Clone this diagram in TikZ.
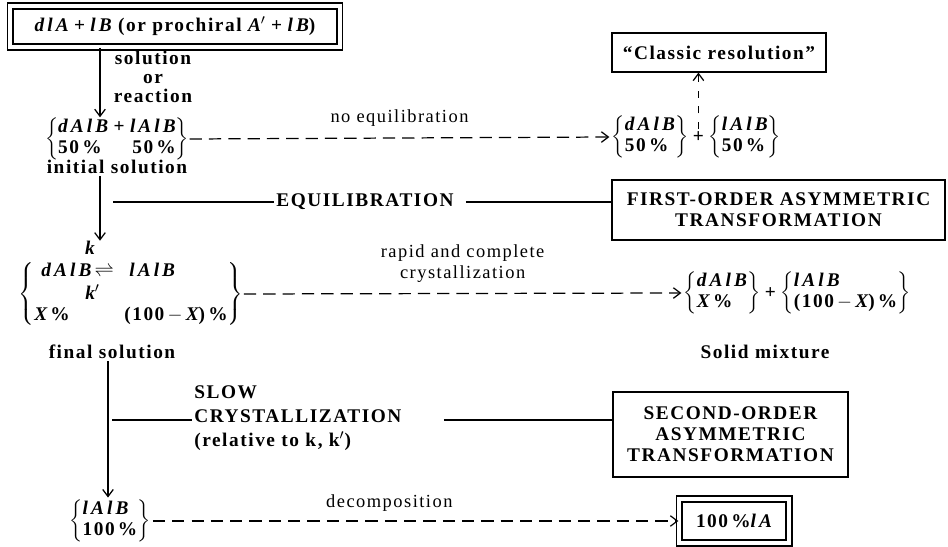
\documentclass[tikz,border=0pt]{standalone}
\usepackage{fontspec}
\setmainfont{Liberation Serif}[LetterSpace=8]
\newfontfamily\chfam{Liberation Serif}[LetterSpace=16]
\usetikzlibrary{arrows.meta, positioning}

\newcommand{\ch}[1]{{\chfam\bfseries\itshape #1}}
\newcommand{\brpair}[2]{$\left\{\begin{tabular}{@{}l@{}}#1\\#2\end{tabular}\right\}$}
\delimitershortfall=6pt

\begin{document}
\begin{tikzpicture}[x=0.02cm, y=-0.02cm, line width=0.7pt]
  \tikzset{txt/.style={font=\fontsize{11}{12}\selectfont\bfseries, inner sep=1pt},
           thin/.style={font=\fontsize{10.5}{12}\selectfont, inner sep=1pt},
           framebox/.style={draw, inner sep=1pt, align=center,
                            font=\fontsize{11}{12}\selectfont\bfseries},
           dblbox/.style={framebox, double, double distance=2.6pt},
           flow/.style={-{Straight Barb[length=4pt,width=6pt]}},
           dashflow/.style={flow, dash pattern=on 7pt off 4pt}}
  \useasboundingbox (0,0) rectangle (948,547);
  \coordinate (spine) at (100,0);
  \coordinate (spinelow) at (108,0);

  % start and initial solution
  \node[dblbox, minimum width=6.6cm, minimum height=0.82cm] (start) at (175,26.5)
    {\ch{dlA}\;+\;\ch{lB} (or prochiral \ch{A}$'$\;+\;\ch{lB})};
  \node[txt, align=center, inner sep=0pt, font=\fontsize{11}{10.6}\selectfont\bfseries]
    (how) at (153,77) {solution\\or\\reaction};
  \node[txt, inner sep=0pt] (init) at (117,139)
    {$\left\{\begin{tabular}{@{}l@{}r@{}}\ch{dAlB}\;+\;&\ch{lAlB}\\50\,\% & 50\,\%\end{tabular}\right\}$};
  \node[txt] (initsol) at (117,167) {initial solution};
  \draw[flow] (start.south -| spine) -- (init.north -| spine);

  % classic resolution
  \node[txt] (pa) at (650,137) {\brpair{\ch{dAlB}}{50\,\%}};
  \node[txt, right=0pt of pa] (plusa) {+};
  \node[txt, right=0pt of plusa] (pb) {\brpair{\ch{lAlB}}{50\,\%}};
  \node[framebox, minimum width=4.28cm, minimum height=0.78cm] (classic) at (719,52.5)
    {“Classic resolution”};
  \draw[dashflow] (init.east) -- (pa.west)
    node[midway, above=5pt, thin] {no equilibration};
  \draw[flow, dash pattern=on 4pt off 5pt] (plusa.north) -- (classic.south -| plusa);

  % first-order
  \node[framebox, minimum width=6.66cm, minimum height=1.2cm] (first) at (778.5,210)
    {FIRST-ORDER ASYMMETRIC\\TRANSFORMATION};
  \node[txt] (equil) at (365,202) {EQUILIBRATION};
  \coordinate (eqfoot) at (113,202);
  \draw (eqfoot) -- (equil.west);
  \draw ([xshift=0.2cm]equil.east) -- (first.west |- equil.east);

  % equilibrium in solution
  \node[txt, inner sep=0pt] (kf) at (90,248) {\ch{k}};
  \node[txt, inner sep=0pt] (eq) at (131,294)
    {$\left\{\begin{tabular}{@{}p{1.8cm}@{}l@{}}\hspace{0.14cm}\ch{dAlB}$\,\rightleftharpoons$ & \hspace{0.1cm}\ch{lAlB}\\[1pt] \hspace{1.02cm}\ch{k}$'$ & \\ \ch{X}\,\% & (100\,$-$\,\ch{X})\,\%\end{tabular}\right\}$};
  \draw[flow] (initsol.south -| spine) -- (kf.north -| spine);
  \node[txt] (finsol) at (112,352) {final solution};

  % solid mixture
  \node[txt] (pc) at (722,293) {\brpair{\ch{dAlB}}{\ch{X}\,\%}};
  \node[txt, right=0pt of pc] (plusb) {+};
  \node[txt, right=0pt of plusb] (pd) {\brpair{\ch{lAlB}}{(100\,$-$\,\ch{X})\,\%}};
  \node[txt] (solid) at (765,352) {Solid mixture};
  \draw[dashflow] (eq.east) -- (pc.west)
    node[midway, above=5pt, thin, align=center] {rapid and complete\\crystallization};

  % second-order
  \node[framebox, minimum width=4.7cm, minimum height=1.7cm] (second) at (730.5,434.5)
    {SECOND-ORDER\\ASYMMETRIC\\TRANSFORMATION};
  \node[txt, align=left, anchor=west, font=\fontsize{11}{13.5}\selectfont\bfseries]
    (slow) at (192,418) {SLOW\\CRYSTALLIZATION\\(relative to k, k$'$)};
  \coordinate (slowfoot) at (112,420);
  \draw (slowfoot) -- (slowfoot -| slow.west);
  \draw ([xshift=0.8cm]slow.east |- slowfoot) -- (second.west |- slowfoot);

  % decomposition
  \node[txt] (fin) at (110,521) {\brpair{\ch{lAlB}}{100\,\%}};
  \node[dblbox, minimum width=2.2cm, minimum height=0.88cm] (pure) at (734,521)
    {100\,\%\ch{lA}};
  \draw[flow] (finsol.south -| spinelow) -- (fin.north -| spinelow);
  \draw[dashflow] (fin.east) -- (pure.west)
    node[pos=0.45, above=4pt, thin] {decomposition};
\end{tikzpicture}
\end{document}
